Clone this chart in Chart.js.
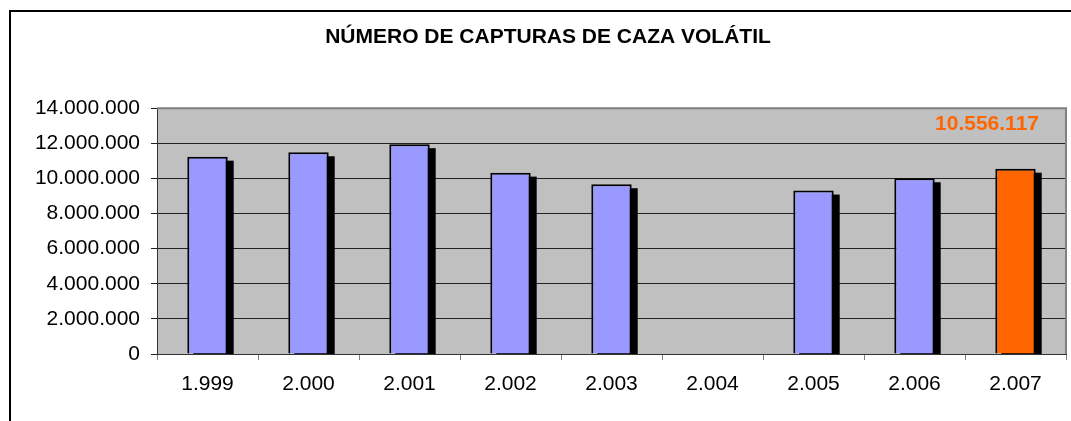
<!DOCTYPE html>
<html>
<head>
<meta charset="utf-8">
<script src="https://cdn.jsdelivr.net/npm/chart.js@4/dist/chart.umd.min.js"></script>
<style>
  html, body { margin: 0; padding: 0; background: #fff; overflow: hidden; }
  #wrap { position: relative; width: 1071px; height: 421px; }
</style>
</head>
<body>
<div id="wrap"><canvas id="grafico"></canvas></div>
<script>
// datos
const anios = ["1.999", "2.000", "2.001", "2.002", "2.003", "2.004", "2.005", "2.006", "2.007"];
const capturas = [11240000, 11490000, 11950000, 10330000, 9670000, null, 9310000, 10010000, 10556117];
const coloresBarras = ["#9999FF", "#9999FF", "#9999FF", "#9999FF", "#9999FF", "#9999FF", "#9999FF", "#9999FF", "#FF6600"];
const titulo = "NÚMERO DE CAPTURAS DE CAZA VOLÁTIL";
const ejeY = { min: 0, max: 14000000, paso: 2000000 };

const FUENTE = "'Liberation Sans', Arial, sans-serif";

function formatoMiles(n) {
  return String(Math.round(n)).replace(/\B(?=(\d{3})+(?!\d))/g, ".");
}

// fondo gris, marco del grafico y sombra de las barras
const decoracion = {
  id: "decoracion",
  beforeDraw(chart) {
    const ctx = chart.ctx;
    const a = chart.chartArea;
    ctx.save();
    ctx.strokeStyle = "#000";
    ctx.lineWidth = 2;
    ctx.strokeRect(10, 11, 1300, 700);
    ctx.fillStyle = "#C0C0C0";
    ctx.fillRect(a.left, a.top, a.right - a.left, a.bottom - a.top);
    ctx.restore();
  },
  beforeDatasetsDraw(chart) {
    const ctx = chart.ctx;
    const a = chart.chartArea;
    const meta = chart.getDatasetMeta(0);
    ctx.save();
    ctx.beginPath();
    ctx.rect(a.left, a.top, a.right - a.left, a.bottom - a.top);
    ctx.clip();
    ctx.fillStyle = "#000";
    meta.data.forEach((bar, i) => {
      if (capturas[i] == null) return;
      const p = bar.getProps(["x", "y", "base", "width"], true);
      ctx.fillRect(p.x - p.width / 2 + 6, p.y + 4, p.width, p.base - p.y);
    });
    ctx.restore();
  },
  afterDatasetsDraw(chart) {
    const ctx = chart.ctx;
    const a = chart.chartArea;
    ctx.save();
    // borde del area de trazado
    ctx.strokeStyle = "#808080";
    ctx.lineWidth = 2;
    ctx.beginPath();
    ctx.moveTo(a.left, a.top);
    ctx.lineTo(a.right, a.top);
    ctx.lineTo(a.right, a.bottom);
    ctx.stroke();
    // etiqueta del ultimo año
    const ultimo = capturas[capturas.length - 1];
    ctx.fillStyle = "#FF6600";
    ctx.font = "bold 21px " + FUENTE;
    ctx.textAlign = "right";
    ctx.textBaseline = "middle";
    ctx.fillText(formatoMiles(ultimo), a.right - 27, a.top + 16);
    ctx.restore();
  }
};

new Chart(document.getElementById("grafico"), {
  type: "bar",
  data: {
    labels: anios,
    datasets: [{
      data: capturas,
      backgroundColor: coloresBarras,
      borderColor: "#000",
      borderWidth: 2,
      categoryPercentage: 1,
      barPercentage: 0.4,
      clip: 0
    }]
  },
  options: {
    responsive: true,
    maintainAspectRatio: false,
    animation: false,
    layout: { padding: { left: 30, right: 5, top: 0, bottom: 0 } },
    plugins: {
      legend: { display: false },
      tooltip: { enabled: false },
      title: {
        display: true,
        text: titulo,
        color: "#000",
        font: { family: FUENTE, size: 21, weight: "bold" },
        padding: { top: 25, bottom: 58 }
      }
    },
    scales: {
      x: {
        grid: { drawOnChartArea: false, drawTicks: true, tickLength: 6, color: "#808080", offset: true },
        border: { color: "#333", width: 1 },
        ticks: { color: "#000", padding: 12, font: { family: FUENTE, size: 21 } },
        afterFit(scale) { scale.height = 67; }
      },
      y: {
        min: ejeY.min,
        max: ejeY.max,
        grid: { color: "#222", lineWidth: 1, tickLength: 6 },
        border: { color: "#333", width: 1 },
        ticks: {
          stepSize: ejeY.paso,
          color: "#000",
          padding: 11,
          font: { family: FUENTE, size: 21 },
          callback: v => formatoMiles(v)
        },
        afterFit(scale) { scale.width = 127; }
      }
    }
  },
  plugins: [decoracion]
});
</script>
</body>
</html>
